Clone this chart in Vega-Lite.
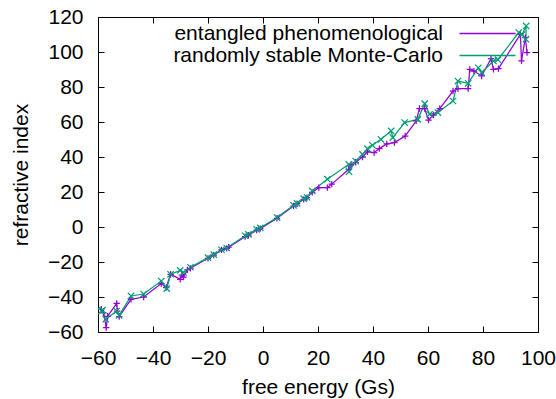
{
  "$schema": "https://vega.github.io/schema/vega-lite/v6.json",
  "width": 440,
  "height": 315,
  "autosize": "none",
  "padding": {"left": 98, "top": 17, "right": 18, "bottom": 67},
  "config": {
    "font": "Liberation Sans",
    "view": {"stroke": "black", "strokeWidth": 1},
    "axis": {
      "grid": false,
      "domain": false,
      "tickColor": "black",
      "tickSize": -6,
      "labelFontSize": 21,
      "labelColor": "black",
      "labelFlush": false,
      "labelOverlap": false,
      "titleFontSize": 21,
      "titleFontWeight": "normal",
      "titleColor": "black",
      "labelPadding": 21
    },
    "legend": {
      "labelFontSize": 21,
      "labelColor": "black",
      "labelLimit": 0
    }
  },
  "data": {
    "values": [
      {"s": "entangled phenomenological", "i": 1, "x": -58.8, "y": -47},
      {"s": "entangled phenomenological", "i": 2, "x": -58.0, "y": -49},
      {"s": "entangled phenomenological", "i": 3, "x": -57.0, "y": -57.5},
      {"s": "entangled phenomenological", "i": 4, "x": -56.5, "y": -51},
      {"s": "entangled phenomenological", "i": 5, "x": -53.2, "y": -43.6},
      {"s": "entangled phenomenological", "i": 6, "x": -53.0, "y": -48},
      {"s": "entangled phenomenological", "i": 7, "x": -52.3, "y": -51.2},
      {"s": "entangled phenomenological", "i": 8, "x": -48.0, "y": -41.3},
      {"s": "entangled phenomenological", "i": 9, "x": -43.4, "y": -40},
      {"s": "entangled phenomenological", "i": 10, "x": -37.0, "y": -32.3},
      {"s": "entangled phenomenological", "i": 11, "x": -35.2, "y": -34.6},
      {"s": "entangled phenomenological", "i": 12, "x": -33.6, "y": -27},
      {"s": "entangled phenomenological", "i": 13, "x": -30.1, "y": -29.9},
      {"s": "entangled phenomenological", "i": 14, "x": -29.5, "y": -27.5},
      {"s": "entangled phenomenological", "i": 15, "x": -28.9, "y": -28.6},
      {"s": "entangled phenomenological", "i": 16, "x": -27.5, "y": -24.5},
      {"s": "entangled phenomenological", "i": 17, "x": -26.4, "y": -23.6},
      {"s": "entangled phenomenological", "i": 18, "x": -20.0, "y": -17.9},
      {"s": "entangled phenomenological", "i": 19, "x": -17.9, "y": -16},
      {"s": "entangled phenomenological", "i": 20, "x": -15.1, "y": -13.1},
      {"s": "entangled phenomenological", "i": 21, "x": -13.2, "y": -12.2},
      {"s": "entangled phenomenological", "i": 22, "x": -12.5, "y": -11.5},
      {"s": "entangled phenomenological", "i": 23, "x": -6.5, "y": -5.5},
      {"s": "entangled phenomenological", "i": 24, "x": -5.3, "y": -4.7},
      {"s": "entangled phenomenological", "i": 25, "x": -2.3, "y": -1.8},
      {"s": "entangled phenomenological", "i": 26, "x": -1.0, "y": -0.9},
      {"s": "entangled phenomenological", "i": 27, "x": 5.1, "y": 5},
      {"s": "entangled phenomenological", "i": 28, "x": 11.1, "y": 12},
      {"s": "entangled phenomenological", "i": 29, "x": 12.4, "y": 13.3},
      {"s": "entangled phenomenological", "i": 30, "x": 14.8, "y": 15.8},
      {"s": "entangled phenomenological", "i": 31, "x": 16.0, "y": 16.8},
      {"s": "entangled phenomenological", "i": 32, "x": 17.9, "y": 19.8},
      {"s": "entangled phenomenological", "i": 33, "x": 20.3, "y": 22.5},
      {"s": "entangled phenomenological", "i": 34, "x": 23.4, "y": 22.5},
      {"s": "entangled phenomenological", "i": 35, "x": 25.0, "y": 24.5},
      {"s": "entangled phenomenological", "i": 36, "x": 31.2, "y": 33},
      {"s": "entangled phenomenological", "i": 37, "x": 32.0, "y": 35.5},
      {"s": "entangled phenomenological", "i": 38, "x": 33.7, "y": 37},
      {"s": "entangled phenomenological", "i": 39, "x": 36.2, "y": 40},
      {"s": "entangled phenomenological", "i": 40, "x": 38.0, "y": 43},
      {"s": "entangled phenomenological", "i": 41, "x": 40.4, "y": 42.5},
      {"s": "entangled phenomenological", "i": 42, "x": 42.3, "y": 44.8},
      {"s": "entangled phenomenological", "i": 43, "x": 45.0, "y": 47.5},
      {"s": "entangled phenomenological", "i": 44, "x": 47.8, "y": 48.2},
      {"s": "entangled phenomenological", "i": 45, "x": 51.7, "y": 52},
      {"s": "entangled phenomenological", "i": 46, "x": 55.7, "y": 60.6},
      {"s": "entangled phenomenological", "i": 47, "x": 56.9, "y": 67.7},
      {"s": "entangled phenomenological", "i": 48, "x": 58.8, "y": 67.7},
      {"s": "entangled phenomenological", "i": 49, "x": 60.2, "y": 61.1},
      {"s": "entangled phenomenological", "i": 50, "x": 62.0, "y": 64},
      {"s": "entangled phenomenological", "i": 51, "x": 64.3, "y": 67.7},
      {"s": "entangled phenomenological", "i": 52, "x": 69.1, "y": 77.7},
      {"s": "entangled phenomenological", "i": 53, "x": 70.9, "y": 79.1},
      {"s": "entangled phenomenological", "i": 54, "x": 74.6, "y": 79.1},
      {"s": "entangled phenomenological", "i": 55, "x": 75.2, "y": 90.1},
      {"s": "entangled phenomenological", "i": 56, "x": 76.7, "y": 89.1},
      {"s": "entangled phenomenological", "i": 57, "x": 79.5, "y": 86.3},
      {"s": "entangled phenomenological", "i": 58, "x": 82.9, "y": 96.2},
      {"s": "entangled phenomenological", "i": 59, "x": 83.8, "y": 90.1},
      {"s": "entangled phenomenological", "i": 60, "x": 85.6, "y": 90.5},
      {"s": "entangled phenomenological", "i": 61, "x": 93.6, "y": 110.1},
      {"s": "entangled phenomenological", "i": 62, "x": 94.0, "y": 94.9},
      {"s": "entangled phenomenological", "i": 63, "x": 95.4, "y": 108.2},
      {"s": "entangled phenomenological", "i": 64, "x": 96.0, "y": 99.7},
      {"s": "randomly stable Monte-Carlo", "i": 1, "x": -58.8, "y": -48},
      {"s": "randomly stable Monte-Carlo", "i": 2, "x": -58.4, "y": -47.5},
      {"s": "randomly stable Monte-Carlo", "i": 3, "x": -57.2, "y": -52.7},
      {"s": "randomly stable Monte-Carlo", "i": 4, "x": -53.2, "y": -48},
      {"s": "randomly stable Monte-Carlo", "i": 5, "x": -52.3, "y": -50.5},
      {"s": "randomly stable Monte-Carlo", "i": 6, "x": -48.0, "y": -39.4},
      {"s": "randomly stable Monte-Carlo", "i": 7, "x": -43.4, "y": -38.3},
      {"s": "randomly stable Monte-Carlo", "i": 8, "x": -37.0, "y": -30.9},
      {"s": "randomly stable Monte-Carlo", "i": 9, "x": -35.0, "y": -35.2},
      {"s": "randomly stable Monte-Carlo", "i": 10, "x": -33.6, "y": -27},
      {"s": "randomly stable Monte-Carlo", "i": 11, "x": -30.1, "y": -24.8},
      {"s": "randomly stable Monte-Carlo", "i": 12, "x": -28.9, "y": -26},
      {"s": "randomly stable Monte-Carlo", "i": 13, "x": -26.4, "y": -23},
      {"s": "randomly stable Monte-Carlo", "i": 14, "x": -20.0, "y": -17.5},
      {"s": "randomly stable Monte-Carlo", "i": 15, "x": -17.9, "y": -15.8},
      {"s": "randomly stable Monte-Carlo", "i": 16, "x": -15.1, "y": -13},
      {"s": "randomly stable Monte-Carlo", "i": 17, "x": -13.2, "y": -12},
      {"s": "randomly stable Monte-Carlo", "i": 18, "x": -6.5, "y": -5},
      {"s": "randomly stable Monte-Carlo", "i": 19, "x": -5.3, "y": -4.2},
      {"s": "randomly stable Monte-Carlo", "i": 20, "x": -2.3, "y": -1.3},
      {"s": "randomly stable Monte-Carlo", "i": 21, "x": -1.0, "y": -0.5},
      {"s": "randomly stable Monte-Carlo", "i": 22, "x": 5.1, "y": 5.4},
      {"s": "randomly stable Monte-Carlo", "i": 23, "x": 11.1, "y": 12.4},
      {"s": "randomly stable Monte-Carlo", "i": 24, "x": 12.4, "y": 13.5},
      {"s": "randomly stable Monte-Carlo", "i": 25, "x": 14.8, "y": 16.2},
      {"s": "randomly stable Monte-Carlo", "i": 26, "x": 16.0, "y": 17},
      {"s": "randomly stable Monte-Carlo", "i": 27, "x": 17.9, "y": 20.6},
      {"s": "randomly stable Monte-Carlo", "i": 28, "x": 23.4, "y": 27.3},
      {"s": "randomly stable Monte-Carlo", "i": 29, "x": 31.2, "y": 35.8},
      {"s": "randomly stable Monte-Carlo", "i": 30, "x": 31.3, "y": 31.6},
      {"s": "randomly stable Monte-Carlo", "i": 31, "x": 33.7, "y": 37.7},
      {"s": "randomly stable Monte-Carlo", "i": 32, "x": 36.2, "y": 41.5},
      {"s": "randomly stable Monte-Carlo", "i": 33, "x": 38.0, "y": 44.8},
      {"s": "randomly stable Monte-Carlo", "i": 34, "x": 39.8, "y": 46.7},
      {"s": "randomly stable Monte-Carlo", "i": 35, "x": 42.9, "y": 50.1},
      {"s": "randomly stable Monte-Carlo", "i": 36, "x": 46.6, "y": 54.9},
      {"s": "randomly stable Monte-Carlo", "i": 37, "x": 47.2, "y": 51.1},
      {"s": "randomly stable Monte-Carlo", "i": 38, "x": 51.5, "y": 59.7},
      {"s": "randomly stable Monte-Carlo", "i": 39, "x": 56.3, "y": 61.5},
      {"s": "randomly stable Monte-Carlo", "i": 40, "x": 58.8, "y": 70.5},
      {"s": "randomly stable Monte-Carlo", "i": 41, "x": 60.6, "y": 64.4},
      {"s": "randomly stable Monte-Carlo", "i": 42, "x": 63.6, "y": 65.4},
      {"s": "randomly stable Monte-Carlo", "i": 43, "x": 69.1, "y": 72},
      {"s": "randomly stable Monte-Carlo", "i": 44, "x": 70.9, "y": 83.4},
      {"s": "randomly stable Monte-Carlo", "i": 45, "x": 74.6, "y": 82.1},
      {"s": "randomly stable Monte-Carlo", "i": 46, "x": 78.3, "y": 91},
      {"s": "randomly stable Monte-Carlo", "i": 47, "x": 79.5, "y": 88.2},
      {"s": "randomly stable Monte-Carlo", "i": 48, "x": 83.8, "y": 94.9},
      {"s": "randomly stable Monte-Carlo", "i": 49, "x": 85.4, "y": 95.6},
      {"s": "randomly stable Monte-Carlo", "i": 50, "x": 93.0, "y": 111.1},
      {"s": "randomly stable Monte-Carlo", "i": 51, "x": 94.2, "y": 110},
      {"s": "randomly stable Monte-Carlo", "i": 52, "x": 95.7, "y": 114.9},
      {"s": "randomly stable Monte-Carlo", "i": 53, "x": 95.6, "y": 107.3}
    ]
  },
  "resolve": {"axis": {"x": "independent", "y": "independent"}},
  "layer": [
    {
      "mark": {"type": "line", "strokeWidth": 1.25},
      "encoding": {
        "order": {"field": "i", "type": "quantitative"},
        "x": {"field": "x", "type": "quantitative", "scale": {"domain": [-60, 100], "nice": false, "zero": false}, "axis": {"orient": "bottom", "title": "free energy (Gs)", "values": [-60, -40, -20, 0, 20, 40, 60, 80, 100], "titlePadding": 8}},
        "y": {"field": "y", "type": "quantitative", "scale": {"domain": [-60, 120], "nice": false, "zero": false}, "axis": {"orient": "left", "title": "refractive index", "values": [-60, -40, -20, 0, 20, 40, 60, 80, 100, 120], "titlePadding": 16}},
        "color": {
          "field": "s", "type": "nominal",
          "scale": {"domain": ["entangled phenomenological", "randomly stable Monte-Carlo"], "range": ["#9400d3", "#009e73"]},
          "legend": {
            "title": null,
            "orient": "none",
            "legendX": 379,
            "legendY": 6,
            "padding": 0,
            "symbolType": "M-4,0L4,0",
            "symbolSize": 196,
            "symbolStrokeWidth": 1.5,
            "symbolOpacity": 1,
            "rowPadding": 0,
            "labelAlign": "right",
            "labelOffset": -55
          }
        }
      }
    },
    {
      "transform": [{"filter": "datum.s == 'entangled phenomenological'"}],
      "mark": {"type": "point", "filled": false, "strokeWidth": 1.25, "size": 40, "opacity": 1, "shape": "M-1,0L1,0M0,-1L0,1"},
      "encoding": {
        "x": {"field": "x", "type": "quantitative", "scale": {"domain": [-60, 100], "nice": false, "zero": false}, "axis": {"orient": "top", "labels": false, "title": null, "values": [-60, -40, -20, 0, 20, 40, 60, 80, 100]}},
        "y": {"field": "y", "type": "quantitative", "scale": {"domain": [-60, 120], "nice": false, "zero": false}, "axis": {"orient": "right", "labels": false, "title": null, "values": [-60, -40, -20, 0, 20, 40, 60, 80, 100, 120]}},
        "color": {"field": "s", "type": "nominal", "legend": null}
      }
    },
    {
      "transform": [{"filter": "datum.s == 'randomly stable Monte-Carlo'"}],
      "mark": {"type": "point", "filled": false, "strokeWidth": 1.25, "size": 40, "opacity": 1, "shape": "M-1,-1L1,1M-1,1L1,-1"},
      "encoding": {
        "x": {"field": "x", "type": "quantitative", "scale": {"domain": [-60, 100], "nice": false, "zero": false}, "axis": null},
        "y": {"field": "y", "type": "quantitative", "scale": {"domain": [-60, 120], "nice": false, "zero": false}, "axis": null},
        "color": {"field": "s", "type": "nominal", "legend": null}
      }
    }
  ]
}
